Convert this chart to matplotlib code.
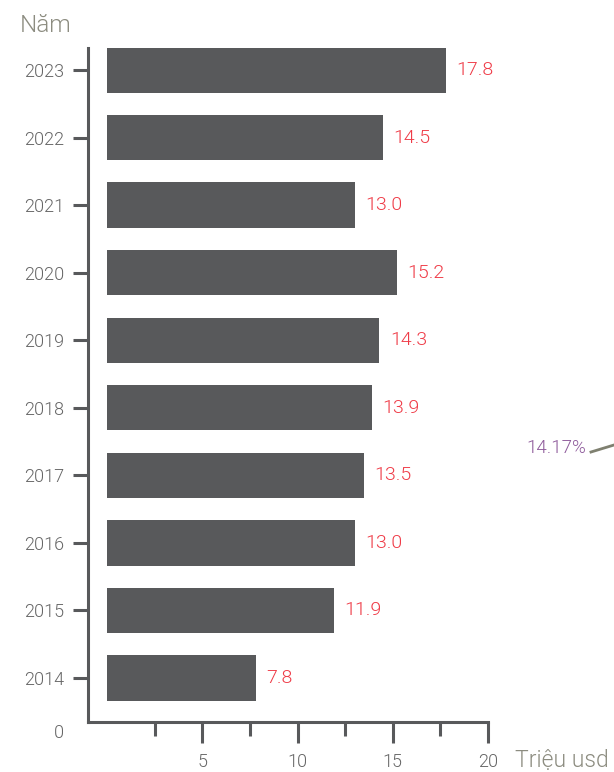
import matplotlib.pyplot as plt

years = ['2014', '2015', '2016', '2017', '2018', '2019', '2020', '2021', '2022', '2023']
values = [7.8, 11.9, 13.0, 13.5, 13.9, 14.3, 15.2, 13.0, 14.5, 17.8]
major_ticks = [5, 10, 15, 20]
minor_ticks = [2.5, 7.5, 12.5, 17.5]

bar_color = '#58595b'
label_color = '#ef3b47'
axis_color = '#58595b'
tick_text = '#666666'
title_gray = '#8c8c80'

plt.rcParams['font.family'] = ['Roboto', 'DejaVu Sans']
plt.rcParams['font.weight'] = 300

fig = plt.figure(figsize=(6.14, 7.72), dpi=100)
W, H = 614, 772
ax = fig.add_axes([88 / W, 50 / H, 400 / W, 674 / H])

pos = list(range(len(years)))
ax.barh(pos, values, height=0.67, color=bar_color, left=0)
for p, v in zip(pos, values):
    ax.text(v + 0.55, p, f'{v:.1f}', va='center', ha='left', color=label_color,
            fontsize=14, fontweight=300)

ax.set_xlim(-1, 20)
ax.set_ylim(-0.651, 9.325)

for key, spine in ax.spines.items():
    spine.set_visible(key in ('left', 'bottom'))
    spine.set_color(axis_color)
    spine.set_linewidth(2.2)

ax.set_yticks(pos)
ax.set_yticklabels(years)
ax.set_xticks(major_ticks)
ax.set_xticklabels([str(t) for t in major_ticks])
ax.set_xticks(minor_ticks, minor=True)

ax.tick_params(axis='y', length=10.8, width=2.2, color=axis_color, pad=6.5,
               labelsize=13, labelcolor=tick_text)
ax.tick_params(axis='x', which='major', length=15, width=2.2, color=axis_color, pad=7,
               labelsize=13, labelcolor=tick_text)
ax.tick_params(axis='x', which='minor', length=10, width=2.2, color=axis_color)
for lbl in ax.get_xticklabels() + ax.get_yticklabels():
    lbl.set_fontweight(300)

fig.text(20 / W, 1 - 25 / H, 'Năm', fontsize=17.5, color=title_gray, fontweight=300,
         va='center', ha='left')
fig.text(64 / W, 1 - 733 / H, '0', fontsize=13, color=tick_text, fontweight=300,
         va='center', ha='right')
fig.text(515 / W, 1 - 760 / H, 'Triệu usd', fontsize=16.5, color=title_gray,
         fontweight=300, va='center', ha='left')
fig.text(586 / W, 1 - 448 / H, '14.17%', fontsize=13.5, color='#8e5a9b',
         fontweight=300, va='center', ha='right')
fig.add_artist(plt.Line2D([591 / W, 614 / W], [1 - 452 / H, 1 - 445 / H],
                          color='#7f8070', linewidth=2))

fig.savefig('out.png', dpi=100)
